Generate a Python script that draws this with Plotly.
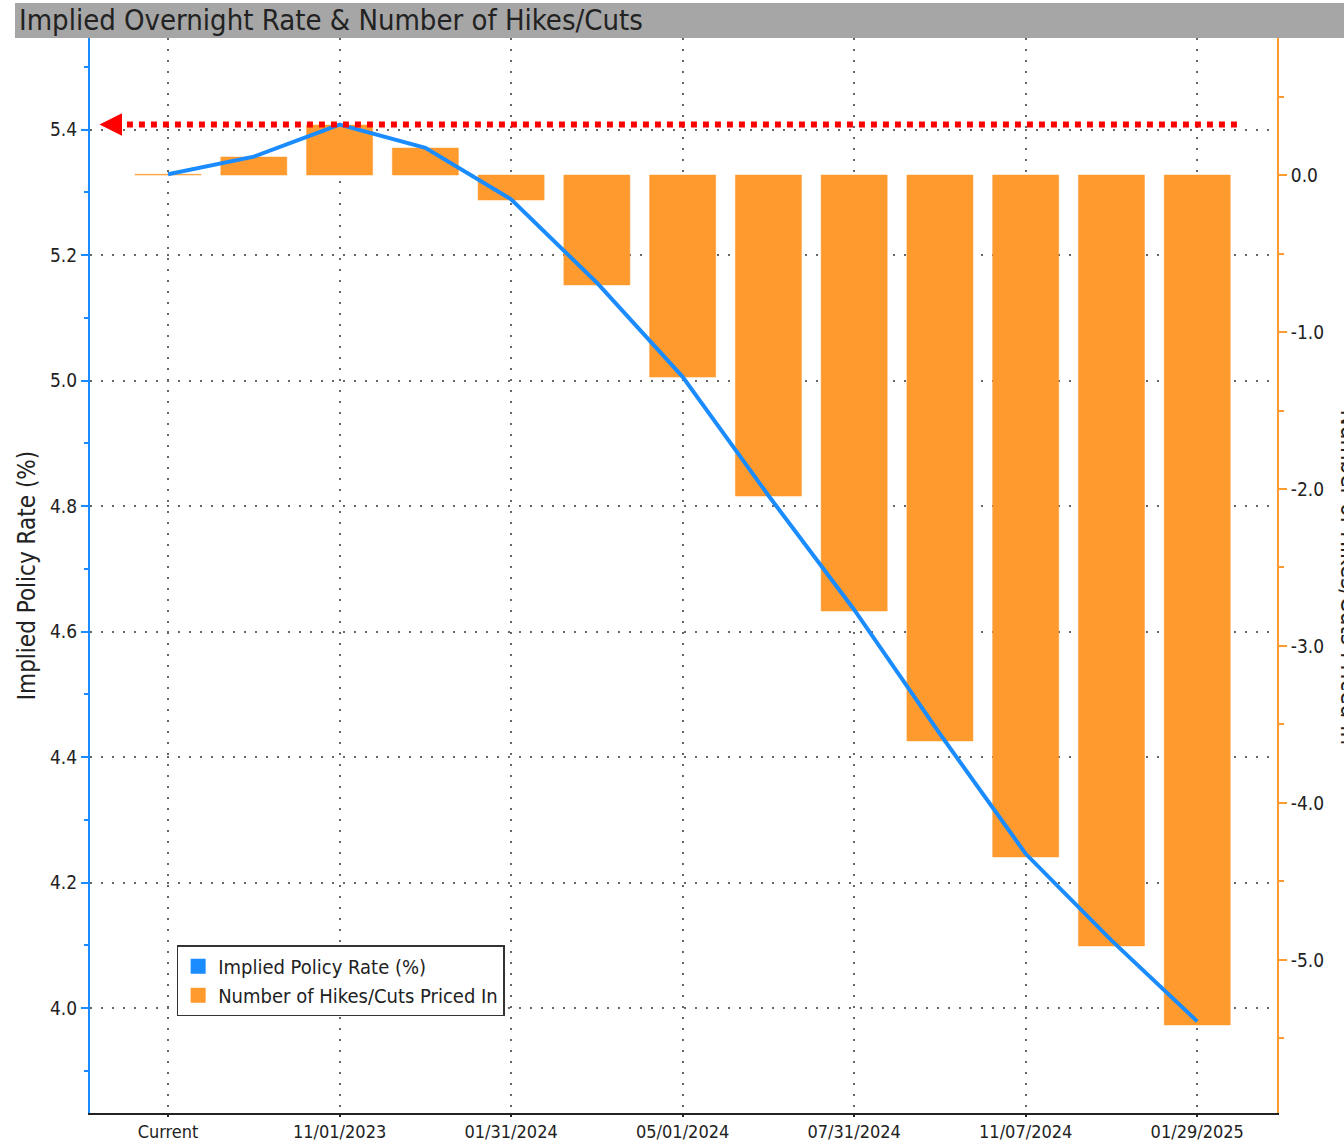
import plotly.graph_objects as go

categories = ["Current", "09/20/2023", "11/01/2023", "12/13/2023", "01/31/2024", "03/20/2024",
              "05/01/2024", "06/12/2024", "07/31/2024", "09/18/2024", "11/07/2024", "12/18/2024",
              "01/29/2025"]
implied_rate = [5.329, 5.357, 5.408, 5.371, 5.289, 5.156, 5.006, 4.817, 4.635, 4.437, 4.246, 4.108, 3.979]
hikes_cuts = [0.005, 0.115, 0.318, 0.172, -0.159, -0.70, -1.287, -2.045, -2.777, -3.605, -4.344, -4.911, -5.414]
tick_labels = ["Current", "11/01/2023", "01/31/2024", "05/01/2024", "07/31/2024", "11/07/2024", "01/29/2025"]
tick_cats = categories[::2]
right_ticks = [0, -1, -2, -3, -4, -5]
right_tick_labels = ["0.0", "-1.0", "-2.0", "-3.0", "-4.0", "-5.0"]
peak_level = max(implied_rate)

BLUE = "#1a8cff"
ORANGE = "#ff9a2e"
FONT = "DejaVu Sans Condensed, DejaVu Sans"
GRID = "#666"

fig = go.Figure()
# bars on main axis (right side), line on overlaying axis (left side) so line is drawn on top
fig.add_trace(go.Bar(x=categories, y=hikes_cuts, yaxis="y", marker=dict(color=ORANGE, line=dict(color=ORANGE, width=0.5)),
                     width=0.77, name="Number of Hikes/Cuts Priced In", showlegend=False))
fig.add_trace(go.Scatter(x=categories, y=implied_rate, yaxis="y2", mode="lines", line=dict(color=BLUE, width=4),
                         name="Implied Policy Rate (%)", showlegend=False))
# legend swatches
fig.add_trace(go.Bar(x=[None], y=[None], marker=dict(color=BLUE, line=dict(color=BLUE, width=3)),
                     name="Implied Policy Rate (%)", yaxis="y2"))
fig.add_trace(go.Bar(x=[None], y=[None], marker=dict(color=ORANGE, line=dict(color=ORANGE, width=3)),
                     name="Number of Hikes/Cuts Priced In", yaxis="y"))

fig.update_layout(
    width=1344, height=1142,
    margin=dict(l=90, r=67, t=38, b=29),
    paper_bgcolor="white", plot_bgcolor="white",
    font=dict(family=FONT, size=18, color="#222"),
    xaxis=dict(type="category", range=[-0.91, 12.93], tickmode="array", tickvals=tick_cats, ticktext=tick_labels,
               showgrid=True, gridcolor=GRID, griddash="2px,9px", gridwidth=2,
               showline=True, linecolor="#222", linewidth=1.5, ticks="outside", ticklen=2, tickwidth=2, tickcolor="#222",
               tickfont=dict(size=18), zeroline=False, automargin=False),
    yaxis2=dict(range=[3.833, 5.546], overlaying="y", side="left", tickmode="linear", tick0=4.0, dtick=0.2, tickformat=".1f",
                showgrid=True, gridcolor=GRID, griddash="2px,9px", gridwidth=2,
                showline=True, linecolor=BLUE, linewidth=2, ticks="outside", ticklen=7, tickwidth=2, tickcolor=BLUE,
                minor=dict(dtick=0.1, tick0=4.0, ticks="outside", ticklen=4, tickcolor=BLUE, showgrid=False),
                tickfont=dict(size=19), zeroline=False, automargin=False,
                title=dict(text="Implied Policy Rate (%)", font=dict(size=24), standoff=8)),
    yaxis=dict(range=[-5.975, 0.873], side="right", tickmode="array", tickvals=right_ticks, ticktext=right_tick_labels,
               showgrid=False, zeroline=False, automargin=False,
               showline=True, linecolor=ORANGE, linewidth=2, ticks="outside", ticklen=8, tickwidth=2, tickcolor=ORANGE,
               minor=dict(dtick=0.5, tick0=0, ticks="outside", ticklen=5, tickcolor=ORANGE),
               tickfont=dict(size=19)),
    legend=dict(x=0.073, y=0.156, xanchor="left", yanchor="top", bgcolor="white", bordercolor="#333", borderwidth=1.5,
                font=dict(size=20), traceorder="normal", itemwidth=30, tracegroupgap=0),
    shapes=[
        dict(type="rect", xref="paper", yref="paper", x0=-0.0632, x1=1.06, y0=1.0, y1=1.0326,
             fillcolor="#a6a6a6", line=dict(width=0), layer="below"),
        dict(type="line", xref="paper", yref="y2", x0=0.021, x1=0.969, y0=peak_level, y1=peak_level,
             line=dict(color="#ff0000", width=6, dash="6px,6px")),
    ],
    annotations=[
        dict(text="Implied Overnight Rate & Number of Hikes/Cuts", xref="paper", yref="paper",
             x=-0.0615, y=1.0163, xanchor="left", yanchor="middle", showarrow=False,
             font=dict(size=29, color="#222")),
        dict(text="", xref="paper", yref="y2", x=0.008, y=peak_level, showarrow=True, ax=18, ay=0,
             arrowhead=2, arrowsize=1.5, arrowwidth=3, arrowcolor="#ff0000", standoff=0),
        dict(text="Number of Hikes/Cuts Priced In", xref="paper", yref="paper", x=1.0472, y=0.498,
             xanchor="left", yanchor="middle", textangle=90, showarrow=False, font=dict(size=24, color="#222")),
    ],
)

fig.write_html("out.html", config={"displayModeBar": False},
               post_script="document.body.style.margin='0';document.body.style.padding='0';")
